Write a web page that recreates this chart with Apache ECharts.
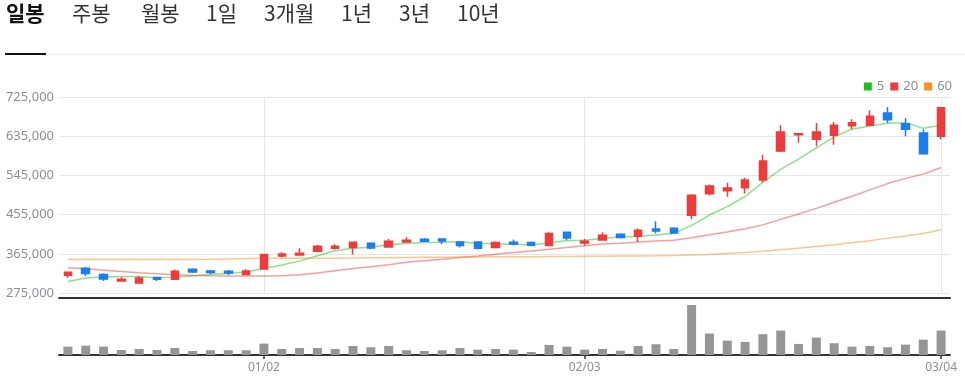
<!DOCTYPE html>
<html><head><meta charset="utf-8">
<script src="https://cdn.jsdelivr.net/npm/echarts@6/dist/echarts.min.js"></script>
<style>html,body{margin:0;padding:0;background:#fff}#c{width:965px;height:381px}</style>
</head><body><div id="c"></div>
<script>
// ---- data ----
const dates = ['12/13','12/16','12/17','12/18','12/19','12/20','12/23','12/24','12/26','12/27','12/30',
  '01/02','01/03','01/06','01/07','01/08','01/09','01/10','01/13','01/14','01/15','01/16','01/17','01/20','01/21','01/22','01/23','01/24','01/31',
  '02/03','02/04','02/05','02/06','02/07','02/10','02/11','02/12','02/13','02/14','02/17','02/18','02/19','02/20','02/21','02/24','02/25','02/26','02/27','02/28',
  '03/04'];
const openV  = [315700,331800,317300,302600,298000,310400,306500,329500,325600,324900,317300,
  330200,360100,362400,370900,377800,379400,389300,380800,392300,398500,399200,392300,392300,379400,391600,390900,384000,414600,
  390000,396900,410000,405400,422200,423800,453700,502700,509600,516500,534200,600900,638400,627800,637000,659100,660000,688300,663700,642300,
  634700];
const closeV = [322600,319600,307200,306500,309500,306500,324900,323300,321900,321000,325600,
  363300,364700,366300,382400,382400,391600,378500,393900,396200,393900,394600,384000,377800,390900,387700,384700,411600,401500,
  393900,407700,402400,419200,417600,413000,499700,520400,515800,534200,577900,644600,640700,644600,660000,666000,680700,672900,650800,594700,
  700500];
const lowV   = [310000,314100,302600,302600,298000,302600,306500,321000,318000,316400,317300,
  330200,356400,362400,368600,374800,363300,375500,380800,392300,393900,387700,379400,374800,379400,384000,382400,384000,396200,
  384000,396900,400100,392300,411600,411600,444500,499700,495800,503600,528900,598600,620000,611700,615400,650800,660000,665300,634700,592400,
  627800];
const highV  = [323800,334800,320300,311800,314100,310900,328800,331800,327900,327900,329500,
  364700,368600,377800,385400,387000,392800,391600,399200,403100,401500,400100,393200,393900,393200,397800,393200,414600,414600,
  399200,414600,412300,423100,439900,426100,502000,524300,528000,539500,591700,660000,641000,665300,667600,673800,694500,702100,676800,650800,
  700500];
const volumes = [332000,372000,332000,200000,240000,200000,280000,160000,188000,188000,188000,
  452000,240000,280000,280000,240000,360000,308000,360000,188000,160000,188000,280000,212000,240000,212000,120000,400000,332000,
  212000,240000,172000,360000,428000,240000,1988000,852000,572000,520000,828000,972000,440000,692000,468000,332000,360000,308000,412000,612000,
  972000];
const ma5  = [301200,309500,311800,313000,313100,309900,310900,314100,317200,319500,323300,
  331000,339300,348200,360500,371800,377500,380200,385800,388500,390800,391400,392500,389300,388200,387000,385000,390500,395300,
  395900,399900,403400,404900,408200,412000,430400,454000,473300,496600,529600,558600,582600,608400,633600,651200,658400,664800,666100,653000,
  659900];
const ma20 = [333000,330500,327500,324500,321500,319000,317000,315500,314500,314000,313800,
  313800,314500,317000,321000,326000,331000,335500,340000,345400,349000,352700,356600,360100,364200,368200,371200,375600,379600,
  383300,387400,389300,392100,394600,396200,402000,408500,415300,422300,431400,444000,456300,469300,483400,497200,511800,526200,538200,547900,
  563200];
const ma60 = [351800,351800,351800,351800,351800,351800,351800,351800,352300,353200,354000,
  354500,354700,354800,354800,355000,355300,355700,356100,356500,357000,357300,357600,357800,358000,358200,358400,358600,358900,
  359200,359500,359800,360100,360500,361000,362000,363500,365500,368000,371000,374500,377500,381700,386000,390500,395000,401000,406000,411500,
  420000];
const labelDates = ['01/02','02/03','03/04'];
const maNames = ['5','20','60'];
const tabs = ['일봉','주봉','월봉','1일','3개월','1년','3년','10년'];

// ---- chart ----
const UP = '#ef3b3b', DOWN = '#1a7ef0';
const MA_COLORS = ['#1dc11d', '#ef3b3b', '#f7901e'];
const FONT = "'Noto Sans', 'Noto Sans CJK KR', sans-serif";
const showLabel = (i, v) => labelDates.indexOf(v !== undefined ? v : dates[i]) >= 0;

const candleData = dates.map((d, i) => [openV[i], closeV[i], lowV[i], highV[i]]);
const maSeries = [ma5, ma20, ma60].map((arr, k) => ({
  name: maNames[k], type: 'line', data: arr, xAxisIndex: 0, yAxisIndex: 0,
  symbol: 'none', smooth: false, z: 3,
  itemStyle: { color: MA_COLORS[k] },
  lineStyle: { color: MA_COLORS[k], width: 1.5, opacity: 0.5 }
}));

const tabX = [6, 72, 141, 206, 264, 341, 399, 457];
const graphics = tabs.map((t, i) => ({
  type: 'text', left: tabX[i], top: 3,
  style: { text: t, font: (i === 0 ? 'bold ' : '') + "21px 'Noto Sans CJK KR', sans-serif", fill: i === 0 ? '#111' : '#333' }
}));
graphics.push({ type: 'rect', shape: { x: 46, y: 54, width: 919, height: 1 }, style: { fill: '#ececec' } });
graphics.push({ type: 'rect', shape: { x: 5, y: 53, width: 41, height: 2 }, style: { fill: '#111' } });

const chart = echarts.init(document.getElementById('c'), null, { renderer: 'canvas' });
chart.setOption({
  animation: false,
  textStyle: { fontFamily: FONT },
  graphic: graphics,
  legend: {
    data: maNames, right: 8, top: 75, icon: 'rect', itemWidth: 8, itemHeight: 8, itemGap: 6,
    textStyle: { color: '#8a8f99', fontSize: 13, fontFamily: FONT }, selectedMode: false
  },
  grid: [
    { left: 59, right: 15, top: 97, height: 196 },
    { left: 59, right: 15, top: 305, height: 50 }
  ],
  xAxis: [
    { type: 'category', gridIndex: 0, data: dates, boundaryGap: true, offset: 5,
      axisLine: { show: true, lineStyle: { color: '#333', width: 2 } },
      axisTick: { show: false }, axisLabel: { show: false },
      splitLine: { show: true, interval: showLabel, alignWithLabel: true, lineStyle: { color: '#e6e6e6', width: 1 } } },
    { type: 'category', gridIndex: 1, data: dates, boundaryGap: true,
      axisLine: { show: true, lineStyle: { color: '#333', width: 2 } },
      axisTick: { show: true, interval: showLabel, alignWithLabel: true, length: 4, lineStyle: { color: '#333', width: 1.5 } },
      axisLabel: { show: true, interval: showLabel, color: '#8a8f99', fontSize: 12, margin: 7, fontFamily: FONT },
      splitLine: { show: false } }
  ],
  yAxis: [
    { type: 'value', gridIndex: 0, min: 275000, max: 725000, interval: 90000, scale: true,
      axisLine: { show: false }, axisTick: { show: false },
      axisLabel: { color: '#8a8f99', fontSize: 13, margin: 5, fontFamily: FONT },
      splitLine: { show: true, lineStyle: { color: '#e6e6e6', width: 1 } } },
    { type: 'value', gridIndex: 1, min: 0, max: 'dataMax', show: false, splitLine: { show: false } }
  ],
  series: [
    { name: 'candle', type: 'candlestick', xAxisIndex: 0, yAxisIndex: 0, data: candleData, z: 4,
      barWidth: 8,
      itemStyle: { color: UP, color0: DOWN, borderColor: UP, borderColor0: DOWN, borderWidth: 1.5 } },
    ...maSeries,
    { name: 'vol', type: 'bar', xAxisIndex: 1, yAxisIndex: 1, data: volumes, barWidth: 9,
      itemStyle: { color: '#969696' } }
  ]
});
</script></body></html>
